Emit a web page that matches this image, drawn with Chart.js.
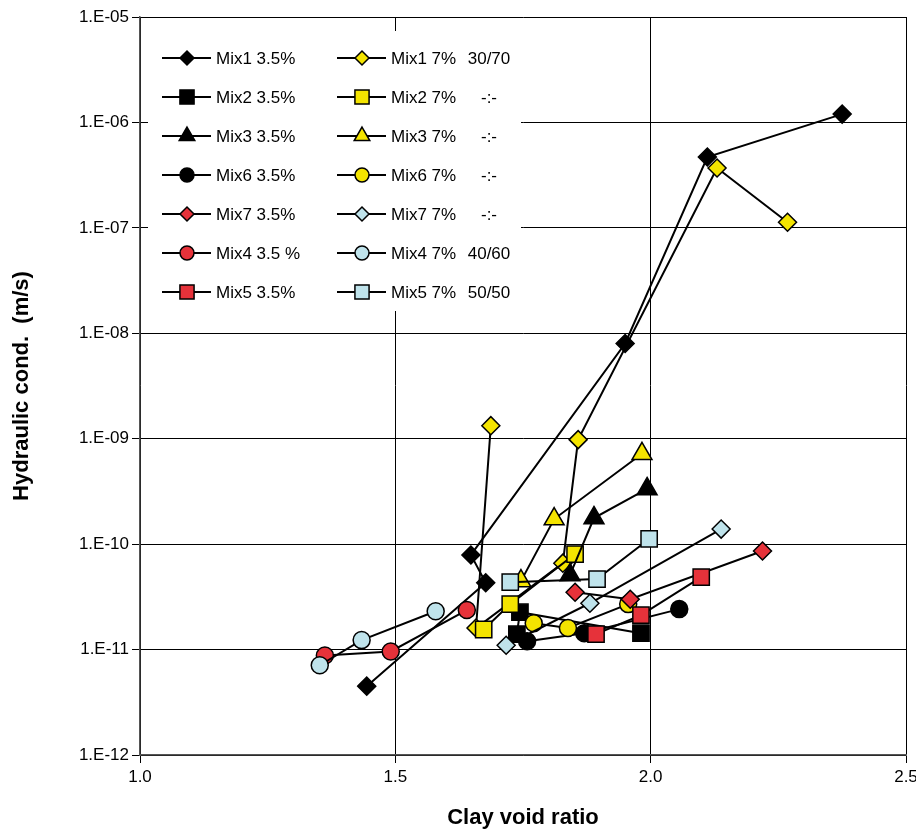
<!DOCTYPE html>
<html>
<head>
<meta charset="utf-8">
<script src="https://cdn.jsdelivr.net/npm/chart.js@4.4.0/dist/chart.umd.min.js"></script>
<style>
  body { margin: 0; background: #fff; overflow: hidden; }
  #wrap { width: 916px; height: 832px; }
  canvas { display: block; }
</style>
</head>
<body>
<div id="wrap"><canvas id="chart" width="916" height="832"></canvas></div>
<script>
// tick labels
const xTicks = [1.0, 1.5, 2.0, 2.5];
const xTickLabels = ["1.0", "1.5", "2.0", "2.5"];
const yTicks = [1e-12, 1e-11, 1e-10, 1e-9, 1e-8, 1e-7, 1e-6, 1e-5];
const yTickLabels = ["1.E-12", "1.E-11", "1.E-10", "1.E-09", "1.E-08", "1.E-07", "1.E-06", "1.E-05"];

// series names (legend order: 3.5% left column, 7% right column)
const seriesNames = [
  "Mix1 3.5%", "Mix1 7%", "Mix2 3.5%", "Mix2 7%", "Mix3 3.5%", "Mix3 7%",
  "Mix6 3.5%", "Mix6 7%", "Mix7 3.5%", "Mix7 7%", "Mix4 3.5 %", "Mix4 7%",
  "Mix5 3.5%", "Mix5 7%"
];
const seriesNotes = ["30/70", "-:-", "-:-", "-:-", "-:-", "40/60", "50/50"];

// clay void ratio (x) and hydraulic conductivity m/s (y)
const mix1a_x = [1.444, 1.677, 1.648, 1.950, 2.111, 2.375];
const mix1a_y = [4.5e-12, 4.3e-11, 7.9e-11, 8.0e-9, 4.7e-7, 1.2e-6];
const mix1b_x = [1.687, 1.658, 1.828, 1.858, 2.130, 2.268];
const mix1b_y = [1.33e-9, 1.6e-11, 6.6e-11, 9.8e-10, 3.7e-7, 1.13e-7];
const mix2a_x = [1.738, 1.744, 1.981];
const mix2a_y = [1.4e-11, 2.26e-11, 1.43e-11];
const mix2b_x = [1.673, 1.725, 1.852];
const mix2b_y = [1.55e-11, 2.7e-11, 8.05e-11];
const mix3a_x = [1.842, 1.889, 1.993];
const mix3a_y = [5.1e-11, 1.77e-10, 3.34e-10];
const mix3b_x = [1.746, 1.811, 1.983];
const mix3b_y = [4.46e-11, 1.73e-10, 7.2e-10];
const mix6a_x = [1.758, 1.870, 2.056];
const mix6a_y = [1.2e-11, 1.43e-11, 2.42e-11];
const mix6b_x = [1.771, 1.838, 1.956];
const mix6b_y = [1.78e-11, 1.6e-11, 2.7e-11];
const mix7a_x = [1.852, 1.960, 2.219];
const mix7a_y = [3.5e-11, 3.0e-11, 8.6e-11];
const mix7b_x = [1.717, 1.881, 2.138];
const mix7b_y = [1.1e-11, 2.75e-11, 1.39e-10];
const mix4a_x = [1.362, 1.491, 1.640];
const mix4a_y = [8.8e-12, 9.6e-12, 2.37e-11];
const mix4b_x = [1.352, 1.434, 1.579];
const mix4b_y = [7.1e-12, 1.23e-11, 2.31e-11];
const mix5a_x = [1.893, 1.981, 2.099];
const mix5a_y = [1.4e-11, 2.12e-11, 4.86e-11];
const mix5b_x = [1.725, 1.895, 1.997];
const mix5b_y = [4.36e-11, 4.66e-11, 1.12e-10];

const BLACK = "#000000";
const YELLOW = "#f4e400";
const RED = "#e6323a";
const LIGHTBLUE = "#bfe3eb";

const markerSize = { rectRot: 9, rect: 11.5, triangle: 11.5, circle: 8.5 };
const legendSize = { rectRot: 7, rect: 10, triangle: 9, circle: 7 };

const seriesData = [
  [mix1a_x, mix1a_y, "rectRot", BLACK],
  [mix1b_x, mix1b_y, "rectRot", YELLOW],
  [mix2a_x, mix2a_y, "rect", BLACK],
  [mix2b_x, mix2b_y, "rect", YELLOW],
  [mix3a_x, mix3a_y, "triangle", BLACK],
  [mix3b_x, mix3b_y, "triangle", YELLOW],
  [mix6a_x, mix6a_y, "circle", BLACK],
  [mix6b_x, mix6b_y, "circle", YELLOW],
  [mix7a_x, mix7a_y, "rectRot", RED],
  [mix7b_x, mix7b_y, "rectRot", LIGHTBLUE],
  [mix4a_x, mix4a_y, "circle", RED],
  [mix4b_x, mix4b_y, "circle", LIGHTBLUE],
  [mix5a_x, mix5a_y, "rect", RED],
  [mix5b_x, mix5b_y, "rect", LIGHTBLUE],
];

function makeDatasets() {
  return seriesData.map((s, i) => {
    const [xs, ys, style, color] = s;
    return {
      label: seriesNames[i],
      data: xs.map((x, k) => ({ x: x, y: ys[k] })),
      showLine: true,
      borderColor: BLACK,
      borderWidth: 2,
      pointStyle: style,
      pointRadius: markerSize[style],
      pointBackgroundColor: color,
      pointBorderColor: BLACK,
      pointBorderWidth: 1.5,
      order: seriesData.length - i, // later series on top
    };
  });
}

// two column legend drawn in the upper left of the plot
const legendBox = {
  id: "legendBox",
  afterDraw(chart) {
    const ctx = chart.ctx;
    const sets = chart.data.datasets;
    ctx.save();
    ctx.fillStyle = "#fff";
    ctx.fillRect(148, 31, 373, 280);
    ctx.font = "17px 'Liberation Sans', Arial, sans-serif";
    ctx.textBaseline = "middle";
    for (let r = 0; r < 7; r++) {
      const y = 58 + r * 39;
      [0, 1].forEach((c) => {
        const ds = sets[r * 2 + c];
        const x0 = c === 0 ? 162 : 337;
        ctx.strokeStyle = BLACK;
        ctx.lineWidth = 2;
        ctx.beginPath();
        ctx.moveTo(x0, y);
        ctx.lineTo(x0 + 49, y);
        ctx.stroke();
        ctx.fillStyle = ds.pointBackgroundColor;
        ctx.strokeStyle = BLACK;
        ctx.lineWidth = 1.5;
        Chart.helpers.drawPoint(ctx, {
          pointStyle: ds.pointStyle,
          radius: legendSize[ds.pointStyle],
          borderWidth: 1.5,
          rotation: 0,
        }, x0 + 25, y);
        ctx.fillStyle = BLACK;
        ctx.textAlign = "left";
        ctx.fillText(ds.label, x0 + 54, y + 1);
        if (c === 1) {
          ctx.textAlign = "center";
          ctx.fillText(seriesNotes[r], 489, y + 1);
        }
      });
    }
    ctx.restore();
  },
};

function drawChart() {
  const ctx = document.getElementById("chart").getContext("2d");
  new Chart(ctx, {
    type: "scatter",
    data: { datasets: makeDatasets() },
    options: {
      responsive: false,
      animation: false,
      layout: { autoPadding: false, padding: { top: 17, right: 10, left: 0, bottom: 0 } },
      plugins: { legend: { display: false }, tooltip: { enabled: false } },
      scales: {
        x: {
          type: "linear",
          min: 1.0,
          max: 2.5,
          afterBuildTicks: (scale) => {
            scale.ticks = xTicks.map((v) => ({ value: v }));
          },
          afterFit: (scale) => {
            scale.height = 77;
            scale.paddingLeft = 0;
            scale.paddingRight = 0;
          },
          ticks: {
            color: BLACK,
            padding: 4,
            font: { family: "'Liberation Sans', Arial", size: 17 },
            callback: (v, i) => xTickLabels[i],
          },
          grid: { color: BLACK, lineWidth: 1, tickLength: 8, tickColor: BLACK },
          border: { color: "#555", width: 1.5 },
          title: {
            display: true,
            text: "Clay void ratio",
            color: BLACK,
            padding: { top: 0, bottom: 1 },
            font: { family: "'Liberation Sans', Arial", size: 22, weight: "bold" },
          },
        },
        y: {
          type: "logarithmic",
          min: 1e-12,
          max: 1e-5,
          afterBuildTicks: (scale) => {
            scale.ticks = yTicks.map((v) => ({ value: v }));
          },
          afterFit: (scale) => {
            scale.width = 140;
            scale.paddingTop = 0;
            scale.paddingBottom = 0;
          },
          ticks: {
            color: BLACK,
            autoSkip: false,
            padding: 3,
            font: { family: "'Liberation Sans', Arial", size: 17 },
            callback: (v, i) => yTickLabels[i],
          },
          grid: { color: BLACK, lineWidth: 1, tickLength: 8, tickColor: BLACK },
          border: { color: "#555", width: 1.5 },
          title: {
            display: true,
            text: "Hydraulic cond.  (m/s)",
            color: BLACK,
            padding: { top: 9, bottom: 0 },
            font: { family: "'Liberation Sans', Arial", size: 22, weight: "bold" },
          },
        },
      },
    },
    plugins: [legendBox],
  });
}

drawChart();
</script>
</body>
</html>
